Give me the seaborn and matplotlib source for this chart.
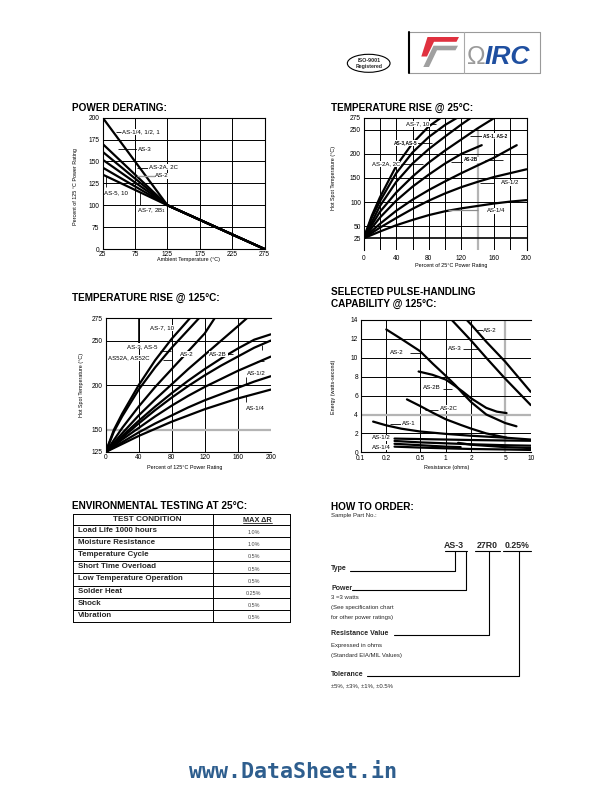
import numpy as np
import pandas as pd
import matplotlib
matplotlib.use("Agg")
import matplotlib.pyplot as plt
import seaborn as sns
from matplotlib import font_manager
from matplotlib.patches import Ellipse, Polygon
from matplotlib.ticker import NullLocator

# ------------------------------------------------------------------ data
# POWER DERATING (percent of 125 C rating vs ambient temperature)
derate_names = ["AS-1/4, 1/2, 1", "AS-3", "AS-2A, 2C", "AS-2", "AS-7, 2B", "AS-5, 10"]
derate_temps = [25, 125, 275]
derate_start = [200, 170, 161, 152, 143, 135]
derate_knee = 100
derate_end = 0

# TEMPERATURE RISE @ 25 C
tr25_names = ["AS-7, 10", "AS-3,AS-5", "AS-2A, 2C", "AS-1, AS-2", "AS-2B", "c6", "AS-1/2", "AS-1/4"]
tr25_x = [
    [0, 10, 20, 40, 60, 80, 95],
    [0, 10, 20, 40, 60, 80, 100, 115],
    [0, 20, 40, 60, 80, 100, 120, 132],
    [0, 20, 40, 60, 80, 100, 120, 140, 161],
    [0, 20, 40, 60, 80, 100, 120, 145],
    [0, 20, 40, 60, 80, 100, 120, 140, 160, 188],
    [0, 20, 40, 60, 80, 100, 120, 140, 160, 180, 200],
    [0, 20, 40, 60, 80, 100, 120, 140, 160, 180, 200],
]
tr25_y = [
    [25, 72, 110, 175, 222, 257, 275],
    [25, 68, 102, 160, 203, 235, 260, 275],
    [25, 92, 142, 180, 210, 236, 261, 275],
    [25, 80, 120, 153, 182, 207, 230, 253, 275],
    [25, 68, 103, 132, 157, 180, 200, 218],
    [25, 55, 82, 105, 125, 143, 160, 176, 192, 218],
    [25, 47, 67, 86, 103, 118, 131, 142, 152, 160, 168],
    [25, 39, 52, 63, 73, 81, 87, 92, 97, 101, 104],
]

# TEMPERATURE RISE @ 125 C
tr125_names = ["AS-7, 10", "AS-3, AS-5", "AS52A, AS52C", "AS-2", "d5", "AS-2B", "d7", "AS-1/2", "AS-1/4"]
tr125_x = [
    [0, 10, 20, 40, 60, 80, 102],
    [0, 10, 20, 40, 60, 80, 100, 113],
    [0, 20, 40, 60, 80, 100, 120, 132],
    [0, 20, 40, 60, 80, 100, 120, 140, 160, 171],
    [0, 20, 40, 60, 80, 100, 120, 140, 160, 180, 200],
    [0, 20, 40, 60, 80, 100, 120, 140, 160, 180, 200],
    [0, 20, 40, 60, 80, 100, 120, 140, 160, 180, 200],
    [0, 20, 40, 60, 80, 100, 120, 140, 160, 180, 200],
    [0, 20, 40, 60, 80, 100, 120, 140, 160, 180, 200],
]
tr125_y = [
    [125, 150, 168, 200, 228, 252, 275],
    [125, 148, 165, 195, 220, 242, 262, 275],
    [125, 152, 176, 198, 218, 238, 258, 275],
    [125, 146, 166, 184, 201, 218, 234, 250, 266, 275],
    [125, 143, 160, 176, 191, 205, 218, 230, 241, 251, 257],
    [125, 141, 157, 172, 186, 199, 211, 222, 232, 242, 250],
    [125, 139, 152, 165, 177, 188, 198, 207, 216, 224, 232],
    [125, 136, 147, 157, 166, 175, 183, 190, 197, 204, 210],
    [125, 134, 143, 151, 159, 166, 173, 179, 185, 190, 195],
]

# SELECTED PULSE-HANDLING CAPABILITY @ 125 C (energy vs resistance)
pulse_names = ["AS-2 top", "AS-3", "AS-2", "AS-2B", "AS-2C", "AS-1",
               "AS-1/2 a", "AS-1/2 b", "AS-1/4 a", "AS-1/4 b", "AS-1/4 c"]
pulse_x = [
    [1.77, 2, 3, 5, 10],
    [1.18, 2, 3, 5, 10],
    [0.2, 0.3, 0.5, 0.7, 1.0, 1.3, 1.6, 2, 3, 5, 6.8],
    [0.48, 0.7, 1.0, 1.3, 1.6, 2, 3, 4, 5.2],
    [0.35, 0.5, 0.7, 1.0, 1.5, 2, 3, 5.2],
    [0.14, 0.2, 0.3, 0.5, 1, 2, 5, 10],
    [0.25, 0.5, 1, 2, 5, 10],
    [0.25, 0.5, 1, 2, 5, 10],
    [0.25, 0.5, 1, 1.5],
    [0.25, 0.5, 1, 2, 5, 10],
    [1.4, 2, 5, 10],
]
pulse_y = [
    [14, 13.5, 11.7, 9.6, 6.4],
    [14, 11.8, 10.0, 7.8, 5.0],
    [13.0, 12.0, 10.7, 9.4, 8.1, 7.1, 6.2, 5.3, 4.0, 3.1, 2.75],
    [8.55, 8.2, 7.7, 7.0, 6.4, 5.7, 4.7, 4.3, 4.15],
    [5.6, 4.9, 4.2, 3.5, 2.9, 2.5, 2.0, 1.55],
    [3.25, 2.85, 2.5, 2.2, 1.95, 1.75, 1.55, 1.35],
    [1.45, 1.4, 1.35, 1.3, 1.25, 1.22],
    [1.2, 1.05, 0.95, 0.85, 0.75, 0.7],
    [0.9, 0.75, 0.6, 0.55],
    [0.6, 0.5, 0.42, 0.35, 0.3, 0.25],
    [1.0, 0.8, 0.55, 0.45],
]

# ENVIRONMENTAL TESTING table
env_conditions = ["Load Life 1000 hours", "Moisture Resistance", "Temperature Cycle",
                  "Short Time Overload", "Low Temperature Operation", "Solder Heat",
                  "Shock", "Vibration"]
env_max_dr = ["1.0%", "1.0%", "0.5%", "0.5%", "0.5%", "0.25%", "0.5%", "0.5%"]

# ------------------------------------------------------------------ style
sns.set_theme(style="white")
names = {f.name for f in font_manager.fontManager.ttflist}
SANS = "Liberation Sans" if "Liberation Sans" in names else "DejaVu Sans"
NARROW = "Liberation Sans Narrow" if "Liberation Sans Narrow" in names else SANS
plt.rcParams["font.family"] = [SANS, "DejaVu Sans"]
plt.rcParams["axes.linewidth"] = 0.8

W, H = 612, 792
fig = plt.figure(figsize=(W / 100, H / 100), dpi=100)
fig.patch.set_facecolor("white")

bg = fig.add_axes([0, 0, 1, 1], zorder=-5)
bg.set_xlim(0, W)
bg.set_ylim(H, 0)
bg.axis("off")

LW = 1.6
GRID = dict(color="black", lw=0.7, zorder=1)
GRAY = dict(color="#b4b4b4", lw=1.6, zorder=1)
BOX = dict(facecolor="white", edgecolor="none", pad=0.4)


def ax_at(l, r, t, b):
    return fig.add_axes([l / W, 1 - b / H, (r - l) / W, (b - t) / H])


def style(ax, spines, pad_x=1.8, pad_y=2.0):
    for s in ax.spines:
        ax.spines[s].set_visible(s in spines)
        ax.spines[s].set_color("black")
        ax.spines[s].set_linewidth(0.8)
    ax.tick_params(axis="both", length=0, labelsize=4.8, colors="black")
    ax.tick_params(axis="x", pad=pad_x)
    ax.tick_params(axis="y", pad=pad_y)
    ax.grid(False)
    ax.set_facecolor("white")


def draw_curves(ax, names_, xs, ys):
    frames = [pd.DataFrame({"x": x, "y": y, "curve": n}) for n, x, y in zip(names_, xs, ys)]
    df = pd.concat(frames, ignore_index=True)
    sns.lineplot(data=df, x="x", y="y", hue="curve", palette=["black"] * len(names_),
                 estimator=None, sort=False, legend=False, linewidth=LW, ax=ax, zorder=3)


def labels(ax, xl, xpos, yl, ypos, size=3.9):
    ax.set_xlabel(xl, fontsize=size, color="black")
    ax.set_ylabel(yl, fontsize=size, color="black")
    ax.xaxis.set_label_coords(xpos[0] / W, 1 - xpos[1] / H, transform=fig.transFigure)
    ax.yaxis.set_label_coords(ypos[0] / W, 1 - ypos[1] / H, transform=fig.transFigure)
    ax.xaxis.label.set_va("center")
    ax.yaxis.label.set_va("center")


def lead(ax, xs, ys, color="black", lw=0.6):
    ax.plot(xs, ys, color=color, lw=lw, zorder=4, solid_capstyle="butt")


def note(ax, x, y, s, size=4.3, ha="left", weight="normal"):
    ax.text(x, y, s, fontsize=size, ha=ha, va="center", weight=weight, zorder=5,
            bbox=BOX, color="black")


# ------------------------------------------------------------------ titles
def title(x, y, s, size=7.2):
    bg.text(x, y, s, fontsize=size, weight="bold", ha="left", va="center", color="black",
            family=[NARROW, SANS, "DejaVu Sans"])


title(71.7, 107.7, "POWER DERATING:")
title(331.0, 107.7, "TEMPERATURE RISE @ 25°C:")
title(72.5, 297.7, "TEMPERATURE RISE @ 125°C:")
title(331.0, 291.7, "SELECTED PULSE-HANDLING")
title(331.0, 303.5, "CAPABILITY @ 125°C:")
title(72.5, 506.0, "ENVIRONMENTAL TESTING AT 25°C:")
title(331.0, 506.5, "HOW TO ORDER:")

# ------------------------------------------------------------------ chart 1
ax1 = ax_at(102.7, 264.5, 117.7, 249.0)
d_names, d_x, d_y = [], [], []
for n, s in zip(derate_names, derate_start):
    d_names.append(n)
    d_x.append(derate_temps)
    d_y.append([s, derate_knee, derate_end])
draw_curves(ax1, d_names, d_x, d_y)


def fwd(y):
    y = np.asarray(y, dtype=float)
    return np.where(y >= 75, y, 50 + y / 3.0)


def inv(u):
    u = np.asarray(u, dtype=float)
    return np.where(u >= 75, u, (u - 50) * 3.0)


ax1.set_yscale("function", functions=(fwd, inv))
ax1.set_xlim(25, 275)
ax1.set_ylim(0, 200)
ax1.set_xticks([25, 75, 125, 175, 225, 275])
ax1.set_yticks([0, 75, 100, 125, 150, 175, 200])
ax1.yaxis.set_minor_locator(NullLocator())
style(ax1, ("left", "right", "top", "bottom"), pad_x=1.8, pad_y=2.4)
for v in [75, 125, 175, 225]:
    ax1.axvline(v, **GRID)
for v in [75, 100, 125, 150, 175]:
    ax1.axhline(v, **GRID)
labels(ax1, "Ambient Temperature (°C)", (188.3, 259.5),
       "Percent of 125 °C Power Rating", (75.5, 186.7))
lead(ax1, [45.7, 54], [184, 184])
note(ax1, 55, 184, "AS-1/4, 1/2, 1", 4.4)
lead(ax1, [49.3, 78], [163.8, 163.8])
note(ax1, 79, 164, "AS-3", 4.4)
lead(ax1, [78.7, 96], [142.7, 142.7])
note(ax1, 96.5, 143.5, "AS-2A, 2C", 4.4)
lead(ax1, [78.7, 106], [133, 133], color="#9a9a9a", lw=1.0)
note(ax1, 106.5, 133.5, "AS-2", 4.4)
lead(ax1, [30.2, 30.2], [120.4, 133.8])
note(ax1, 27.3, 114.2, "AS-5, 10", 4.4)
lead(ax1, [82.9, 82.9], [99.2, 114.6])
note(ax1, 77.5, 94.0, "AS-7, 2B$_1$", 4.4)

# ------------------------------------------------------------------ chart 2
ax2 = ax_at(363.7, 526.5, 117.7, 250.3)
draw_curves(ax2, tr25_names, tr25_x, tr25_y)
ax2.set_xlim(0, 200)
ax2.set_ylim(0, 275)
ax2.set_xticks([0, 40, 80, 120, 160, 200])
ax2.set_yticks([25, 50, 100, 150, 200, 250, 275])
style(ax2, ("left", "right", "top"), pad_x=3.5, pad_y=2.0)
for v in [20, 40, 60, 80, 100, 120, 160, 180]:
    ax2.axvline(v, **GRID)
ax2.axvline(140, ymax=250 / 275, **GRAY)
for v in [50, 100, 150, 200, 250]:
    ax2.axhline(v, **GRID)
ax2.axhline(25, color="black", lw=1.2, zorder=2)
labels(ax2, "Percent of 25°C Power Rating", (450.7, 265.3),
       "Hot Spot Temperature (°C)", (334.0, 178.0))
note(ax2, 81, 262.5, "AS-7, 10", 4.3, ha="right")
lead(ax2, [81, 88.5], [262, 262])
note(ax2, 66, 222.5, "AS-3,AS-5", 3.5, ha="right", weight="bold")
lead(ax2, [66, 84], [221.5, 221.5])
note(ax2, 44.5, 179.5, "AS-2A, 2C", 4.3, ha="right")
lead(ax2, [46, 73], [178.6, 178.6])
lead(ax2, [131, 145.5], [237, 237])
note(ax2, 146, 237.5, "AS-1, AS-2", 3.4, weight="bold")
lead(ax2, [107.8, 122.5], [183, 183])
note(ax2, 123, 188, "AS-2B", 3.4, weight="bold")
lead(ax2, [148.8, 171.3], [186.7, 186.7])
lead(ax2, [143.3, 159.7], [138.6, 138.6])
lead(ax2, [160, 160], [108, 136])
note(ax2, 169, 139.6, "AS-1/2", 4.3)
lead(ax2, [103, 140], [83, 83], color="#8a8a8a", lw=0.9)
note(ax2, 151, 81.6, "AS-1/4", 4.3)

# ------------------------------------------------------------------ chart 3
ax3 = ax_at(105.7, 270.7, 318.3, 452.0)
draw_curves(ax3, tr125_names, tr125_x, tr125_y)
ax3.set_xlim(0, 200)
ax3.set_ylim(125, 275)
ax3.set_xticks([0, 40, 80, 120, 160, 200])
ax3.set_yticks([125, 150, 200, 250, 275])
style(ax3, ("left", "top", "bottom"), pad_x=1.5, pad_y=2.0)
for v in [40, 80, 120, 160]:
    ax3.axvline(v, **GRID)
ax3.plot([40.4, 40.4], [247, 275], color="black", lw=1.2, zorder=2)
for v in [200, 250]:
    ax3.axhline(v, **GRID)
ax3.axhline(150, **GRAY)
labels(ax3, "Percent of 125°C Power Rating", (185.0, 467.7),
       "Hot Spot Temperature (°C)", (81.7, 385.0))
note(ax3, 53.7, 264.5, "AS-7, 10", 4.4)
lead(ax3, [74.5, 82], [264.5, 264.5])
note(ax3, 62.5, 243.6, "AS-3, AS-5", 4.4, ha="right")
lead(ax3, [65.8, 79], [238, 238])
note(ax3, 53.7, 230.4, "AS52A, AS52C", 4.4, ha="right")
lead(ax3, [69.4, 80], [227.9, 227.9])
note(ax3, 90, 234.6, "AS-2", 4.4)
note(ax3, 125.6, 234.6, "AS-2B", 4.4)
lead(ax3, [146.6, 154.7], [235, 235])
lead(ax3, [189, 189], [239, 244.7])
lead(ax3, [183, 192], [227, 227])
note(ax3, 171, 213.6, "AS-1/2", 4.4)
lead(ax3, [170, 170], [200.5, 209])
note(ax3, 170.5, 173.6, "AS-1/4", 4.4)
lead(ax3, [170.5, 170.5], [181, 188.6])

# ------------------------------------------------------------------ chart 4
ax4 = ax_at(360.7, 530.7, 320.0, 452.3)
draw_curves(ax4, pulse_names, pulse_x, pulse_y)
ax4.set_xscale("log")
ax4.set_xlim(0.1, 10)
ax4.set_ylim(0, 14)
ax4.set_xticks([0.1, 0.2, 0.5, 1, 2, 5, 10])
ax4.set_xticklabels(["0.1", "0.2", "0.5", "1", "2", "5", "10"])
ax4.xaxis.set_minor_locator(NullLocator())
ax4.set_yticks([0, 2, 4, 6, 8, 10, 12, 14])
style(ax4, ("left", "top", "bottom"), pad_x=2.2, pad_y=2.0)
for v in [0.2, 0.5, 1, 2]:
    ax4.axvline(v, **GRID)
ax4.axvline(5, **GRAY)
for v in [2, 6, 8, 10, 12]:
    ax4.axhline(v, **GRID)
ax4.axhline(4, **GRAY)
labels(ax4, "Resistance (ohms)", (446.7, 467.7),
       "Energy (watts-second)", (333.3, 386.7))
lead(ax4, [2.22, 2.72], [12.94, 12.94])
note(ax4, 2.77, 12.94, "AS-2", 4.4)
note(ax4, 1.07, 11.0, "AS-3", 4.4)
lead(ax4, [1.61, 2.42], [10.9, 10.9])
note(ax4, 0.221, 10.54, "AS-2", 4.4)
lead(ax4, [0.38, 0.52], [10.54, 10.54])
note(ax4, 0.546, 6.84, "AS-2B", 4.4)
lead(ax4, [0.94, 1.18], [6.7, 6.7])
note(ax4, 0.86, 4.65, "AS-2C", 4.4)
lead(ax4, [0.57, 0.82], [4.48, 4.48])
note(ax4, 0.303, 3.07, "AS-1", 4.4)
lead(ax4, [0.22, 0.30], [3.0, 3.0])
note(ax4, 0.135, 1.55, "AS-1/2", 4.4)
note(ax4, 0.135, 0.53, "AS-1/4", 4.4)

# ------------------------------------------------------------------ table
tl, tdiv, tr = 72.7, 212.7, 290.0
ttop, thead = 514.3, 524.5
rh = (622.3 - thead) / len(env_conditions)
tbot = thead + rh * len(env_conditions)
for yy in [ttop, thead] + [thead + rh * (i + 1) for i in range(len(env_conditions))]:
    bg.plot([tl, tr], [yy, yy], color="black", lw=0.7)
for xx in [tl, tdiv, tr]:
    bg.plot([xx, xx], [ttop, tbot], color="black", lw=0.7)
bg.text(147.0, 519.6, "TEST CONDITION", fontsize=5.9, weight="bold", ha="center", va="center",
        family=[NARROW, SANS, "DejaVu Sans"])
bg.text(257.3, 520.3, "MAX ΔR", fontsize=5.3, weight="bold", ha="center", va="center",
        family=[NARROW, SANS, "DejaVu Sans"])
bg.plot([243, 272], [523.2, 523.2], color="black", lw=0.5)
for i, (c, v) in enumerate(zip(env_conditions, env_max_dr)):
    yc = thead + rh * (i + 0.5)
    bg.text(77.5, yc - 0.6, c, fontsize=5.7, weight="bold", ha="left", va="center",
            family=[NARROW, SANS, "DejaVu Sans"])
    bg.text(254.0, yc + 1.8, v, fontsize=3.9, ha="center", va="center", color="#444444")

# ------------------------------------------------------------------ how to order
bg.text(331.0, 516.0, "Sample Part No.:", fontsize=4.3, ha="left", va="center")
bg.text(454.0, 545.5, "AS-3", fontsize=6.3, weight="bold", ha="center", va="center",
        family=[NARROW, SANS, "DejaVu Sans"])
bg.text(487.5, 545.5, "27R0", fontsize=6.3, weight="bold", ha="center", va="center",
        family=[NARROW, SANS, "DejaVu Sans"])
bg.text(517.0, 545.5, "0.25%", fontsize=6.3, weight="bold", ha="center", va="center",
        family=[NARROW, SANS, "DejaVu Sans"])
for a, b in [(445.0, 467.3), (475.0, 500.0), (502.7, 530.7)]:
    bg.plot([a, b], [551.0, 551.0], color="black", lw=0.8)
orders = [("Type", 569.0, 350.0, 455.0), ("Power", 588.3, 351.7, 465.7),
          ("Resistance Value", 633.5, 394.0, 489.3), ("Tolerance", 674.0, 367.3, 519.0)]
for txt, yy, x0, x1 in orders:
    bg.text(331.0, yy, txt, fontsize=5.0, weight="bold", ha="left", va="center")
    bg.plot([x0, x1, x1], [yy + 1.5, yy + 1.5, 551.0], color="black", lw=0.8)
for s, yy in [("3 =3 watts", 597.5), ("(See specification chart", 607.5),
              ("for other power ratings)", 617.5), ("Expressed in ohms", 645.0),
              ("(Standard EIA/MIL Values)", 655.0), ("±5%, ±3%, ±1%, ±0.5%", 685.5)]:
    bg.text(331.0, yy, s, fontsize=4.3, ha="left", va="center")

# ------------------------------------------------------------------ logos
bg.add_patch(Ellipse((368.7, 63.3), 42.7, 18.0, fill=False, lw=0.8, ec="black"))
bg.text(368.7, 60.0, "ISO-9001", fontsize=3.9, weight="bold", ha="center", va="center")
bg.text(368.7, 66.6, "Registered", fontsize=3.7, weight="bold", ha="center", va="center")
bg.plot([409.3, 540, 540, 409.3], [31.7, 31.7, 73.3, 73.3], color="#9a9a9a", lw=0.8)
bg.plot([409.3, 409.3], [31.7, 73.3], color="black", lw=1.5)
bg.plot([464.0, 464.0], [31.7, 73.3], color="#aaaaaa", lw=0.8)
bg.add_patch(Polygon([(427.5, 37.0), (459.0, 37.0), (456.5, 41.8), (434.0, 41.8),
                      (427.0, 56.5), (421.3, 56.5)], closed=True, fc="#e0313f", ec="none"))
bg.add_patch(Polygon([(433.5, 45.7), (458.0, 45.7), (455.5, 50.3), (437.0, 50.3),
                      (429.0, 67.0), (423.3, 67.0)], closed=True, fc="#a0a0a0", ec="none"))
bg.text(476.8, 56.5, "Ω", fontsize=18, color="#9a9a9a", ha="center", va="center")
bg.text(485.0, 56.5, "IRC", fontsize=19, weight="bold", style="italic", color="#1f4fa0",
        ha="left", va="center")

# ------------------------------------------------------------------ footer
bg.text(292.7, 778.3, "www.DataSheet.in", fontsize=15.6, weight="bold",
        family="DejaVu Sans Mono", color="#2e5e8e", ha="center", va="baseline")

fig.savefig("out.png", dpi=100, facecolor="white")
